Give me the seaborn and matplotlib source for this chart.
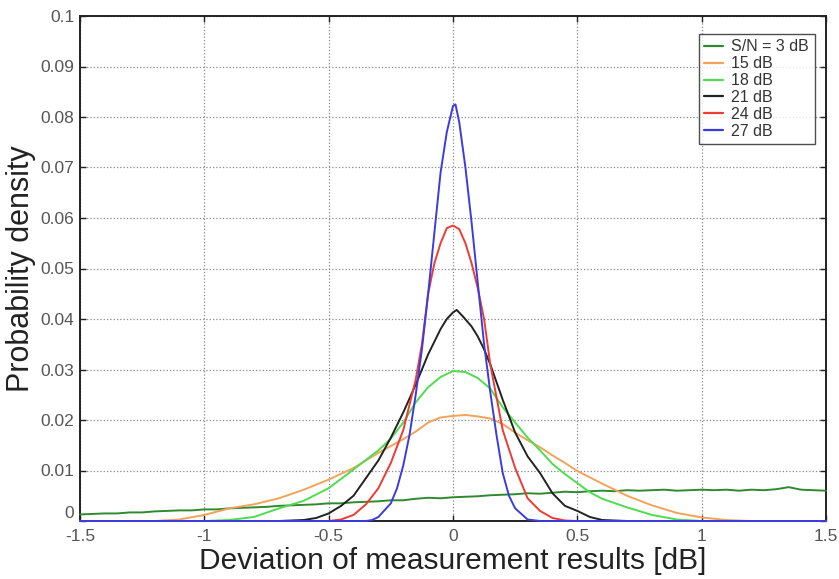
import numpy as np
import pandas as pd
import matplotlib
matplotlib.use("Agg")
import matplotlib.pyplot as plt
import seaborn as sns

# ---------------- data ----------------
labels = ["S/N = 3 dB", "15 dB", "18 dB", "21 dB", "24 dB", "27 dB"]
colors = ["#2f8a2f", "#f2a35a", "#4fdc4f", "#222222", "#ee3b33", "#3b3be0"]

x_3 = [-1.5, -1.45, -1.4, -1.35, -1.3, -1.25, -1.2, -1.15, -1.1, -1.05, -1.0,
       -0.95, -0.9, -0.85, -0.8, -0.75, -0.7, -0.65, -0.6, -0.55, -0.5,
       -0.45, -0.4, -0.35, -0.3, -0.25, -0.2, -0.15, -0.1, -0.05, 0.0,
       0.05, 0.1, 0.15, 0.2, 0.25, 0.3, 0.35, 0.4, 0.45, 0.5,
       0.55, 0.6, 0.65, 0.7, 0.75, 0.8, 0.85, 0.9, 0.95, 1.0,
       1.05, 1.1, 1.15, 1.2, 1.25, 1.3, 1.35, 1.4, 1.45, 1.5]
y_3 = [0.0013, 0.0014, 0.0015, 0.0015, 0.0017, 0.0017, 0.0019, 0.0020, 0.0021, 0.0021, 0.0023,
       0.0023, 0.0025, 0.0026, 0.0027, 0.0028, 0.0030, 0.0031, 0.0032, 0.0033, 0.0035,
       0.0035, 0.0037, 0.0038, 0.0039, 0.0041, 0.0041, 0.0044, 0.0046, 0.0045, 0.0047,
       0.0048, 0.0049, 0.0051, 0.0052, 0.0053, 0.0055, 0.0054, 0.0056, 0.0058, 0.0057,
       0.0059, 0.0060, 0.0059, 0.0061, 0.0060, 0.0061, 0.0062, 0.0060, 0.0061, 0.0062,
       0.0061, 0.0062, 0.0060, 0.0062, 0.0061, 0.0063, 0.0067, 0.0062, 0.0061, 0.0060]

x_15 = [-1.5, -1.2, -1.1, -1.0, -0.9, -0.8, -0.7, -0.6, -0.5, -0.4, -0.3, -0.2, -0.15,
        -0.1, -0.05, 0.0, 0.05, 0.1, 0.15, 0.2, 0.25, 0.3, 0.35, 0.4, 0.45, 0.5,
        0.6, 0.7, 0.8, 0.9, 1.0, 1.1, 1.2, 1.5]
y_15 = [0.0, 0.0, 0.0003, 0.0012, 0.0025, 0.0033, 0.0045, 0.0062, 0.0082, 0.0105, 0.0135, 0.0162, 0.0177,
        0.0195, 0.0205, 0.0208, 0.0210, 0.0207, 0.0203, 0.0192, 0.0175, 0.0160, 0.0146, 0.0130, 0.0115, 0.0099,
        0.0074, 0.0050, 0.0031, 0.0016, 0.0007, 0.0002, 0.0, 0.0]

x_18 = [-1.5, -1.0, -0.9, -0.8, -0.7, -0.6, -0.5, -0.4, -0.3, -0.25, -0.2, -0.15, -0.1,
        -0.05, 0.0, 0.05, 0.1, 0.15, 0.2, 0.25, 0.3, 0.35, 0.4, 0.45, 0.5, 0.55,
        0.6, 0.7, 0.8, 0.9, 1.0, 1.5]
y_18 = [0.0, 0.0, 0.0002, 0.0008, 0.0025, 0.0040, 0.0065, 0.0102, 0.0140, 0.0163, 0.0195, 0.0235, 0.0265,
        0.0285, 0.0297, 0.0295, 0.0283, 0.0262, 0.0225, 0.0195, 0.0165, 0.0140, 0.0113, 0.0093, 0.0075, 0.0057,
        0.0044, 0.0027, 0.0012, 0.0003, 0.0, 0.0]

x_21 = [-1.5, -0.7, -0.6, -0.55, -0.5, -0.45, -0.4, -0.35, -0.3, -0.25, -0.2, -0.15, -0.1,
        -0.05, -0.025, 0.0, 0.015, 0.04, 0.075, 0.1, 0.125, 0.15, 0.2, 0.25, 0.3, 0.35,
        0.4, 0.45, 0.5, 0.55, 0.6, 0.7, 1.5]
y_21 = [0.0, 0.0, 0.0002, 0.0006, 0.0015, 0.0030, 0.0050, 0.0085, 0.0120, 0.0165, 0.0215, 0.0270, 0.0330,
        0.0380, 0.0400, 0.0413, 0.0418, 0.0405, 0.0385, 0.0365, 0.0340, 0.0310, 0.0240, 0.0175, 0.0128, 0.0095,
        0.0055, 0.0030, 0.0020, 0.0008, 0.0002, 0.0, 0.0]

x_24 = [-1.5, -0.5, -0.45, -0.4, -0.35, -0.3, -0.25, -0.2, -0.15, -0.125, -0.1, -0.075, -0.05,
        -0.025, 0.0, 0.025, 0.05, 0.075, 0.1, 0.125, 0.15, 0.2, 0.25, 0.3, 0.35, 0.4,
        0.45, 0.5, 1.5]
y_24 = [0.0, 0.0, 0.0003, 0.0012, 0.0033, 0.0065, 0.0115, 0.0180, 0.0280, 0.0350, 0.0450, 0.0510, 0.0550,
        0.0580, 0.0585, 0.0578, 0.0550, 0.0510, 0.0460, 0.0400, 0.0310, 0.0180, 0.0105, 0.0045, 0.0020, 0.0006,
        0.0001, 0.0, 0.0]

x_27 = [-1.5, -0.35, -0.325, -0.3, -0.25, -0.225, -0.2, -0.175, -0.15, -0.125, -0.1, -0.075, -0.05,
        -0.025, 0.0, 0.01, 0.025, 0.05, 0.075, 0.1, 0.125, 0.15, 0.175, 0.2, 0.225, 0.25,
        0.3, 0.35, 1.5]
y_27 = [0.0, 0.0, 0.0002, 0.0008, 0.0035, 0.0065, 0.0110, 0.0170, 0.0250, 0.0340, 0.0450, 0.0570, 0.0690,
        0.0770, 0.0822, 0.0825, 0.0790, 0.0700, 0.0590, 0.0470, 0.0350, 0.0255, 0.0170, 0.0095, 0.0050, 0.0025,
        0.0003, 0.0, 0.0]

x_ticks = [-1.5, -1.0, -0.5, 0.0, 0.5, 1.0, 1.5]
x_tick_labels = ["-1.5", "-1", "-0.5", "0", "0.5", "1", "1.5"]
y_ticks = [0.0, 0.01, 0.02, 0.03, 0.04, 0.05, 0.06, 0.07, 0.08, 0.09, 0.1]
y_tick_labels = ["0", "0.01", "0.02", "0.03", "0.04", "0.05", "0.06", "0.07", "0.08", "0.09", "0.1"]

series_x = [x_3, x_15, x_18, x_21, x_24, x_27]
series_y = [y_3, y_15, y_18, y_21, y_24, y_27]

frames = []
for lab, xs, ys in zip(labels, series_x, series_y):
    frames.append(pd.DataFrame({"x": xs, "y": ys, "series": lab}))
df = pd.concat(frames, ignore_index=True)

# ---------------- plot ----------------
sns.set_theme(style="white")
plt.rcParams["font.family"] = ["Liberation Sans", "DejaVu Sans"]
plt.rcParams["axes.unicode_minus"] = False

fig = plt.figure(figsize=(8.39, 5.79), dpi=100)
ax = fig.add_axes([80 / 839, 1 - 521 / 579, (826 - 80) / 839, (521 - 16) / 579])

sns.lineplot(data=df, x="x", y="y", hue="series", hue_order=labels,
             palette=dict(zip(labels, colors)), sort=False, estimator=None,
             linewidth=1.4, ax=ax, legend=False)
for ln in ax.get_lines():
    ln.set_zorder(3)
    ln.set_clip_on(False)

ax.set_xlim(-1.5, 1.5)
ax.set_ylim(0, 0.1)
ax.set_xticks(x_ticks)
ax.set_xticklabels(x_tick_labels)
ax.set_yticks(y_ticks)
ax.set_yticklabels(y_tick_labels)
ax.tick_params(axis="both", direction="in", length=4, width=1, colors="#222222",
               labelcolor="#555555", labelsize=12.5, top=True, right=True,
               bottom=True, left=True)
ax.tick_params(axis="x", pad=6)
ax.tick_params(axis="y", pad=4)
# nudge the y "0" label a little upward, as in the reference
ax.get_yticklabels()[0].set_verticalalignment("bottom")
ax.grid(True, linestyle=":", color="#888888", linewidth=0.9)
for sp in ax.spines.values():
    sp.set_color("#222222")
    sp.set_linewidth(1.4)

ax.set_xlabel("Deviation of measurement results [dB]", fontsize=21.5, color="#222222", labelpad=2)
ax.set_ylabel("Probability density", fontsize=22, color="#222222", labelpad=3)

handles = [plt.Line2D([], [], color=c, linewidth=1.6) for c in colors]
leg = ax.legend(handles, labels, loc="upper right", bbox_to_anchor=(0.985, 0.965),
                fontsize=11.5, frameon=True, fancybox=False, edgecolor="#222222",
                handlelength=1.2, handletextpad=0.5, labelspacing=0.12,
                borderpad=0.35, borderaxespad=0.0)
leg.get_frame().set_linewidth(1.0)
for t in leg.get_texts():
    t.set_color("#333333")

fig.savefig("out.png", dpi=100)
